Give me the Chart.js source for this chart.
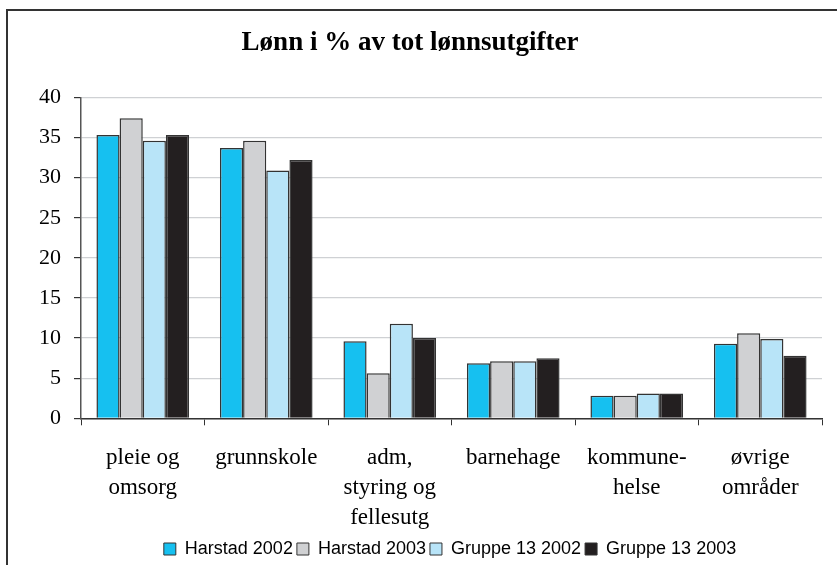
<!DOCTYPE html>
<html>
<head>
<meta charset="utf-8">
<script src="https://cdn.jsdelivr.net/npm/chart.js@4/dist/chart.umd.min.js"></script>
<style>
  html, body { margin: 0; padding: 0; background: #fff; overflow: hidden; }
  #wrap { position: relative; width: 837px; height: 565px; }
  #frame { position: absolute; left: 6px; top: 9px; width: 900px; height: 700px; border: 2px solid #333; box-sizing: border-box; pointer-events: none; }
  canvas { position: absolute; left: 0; top: 0; }
</style>
</head>
<body>
<div id="wrap">
  <canvas id="chart" width="837" height="565"></canvas>
  <div id="frame"></div>
</div>
<script>
const categories = [
  ["pleie og", "omsorg"],
  "grunnskole",
  ["adm,", "styring og", "fellesutg"],
  "barnehage",
  ["kommune-", "helse"],
  ["øvrige", "områder"]
]
const harstad2002 = [35.3, 33.7, 9.6, 6.85, 2.8, 9.3]
const harstad2003 = [37.4, 34.6, 5.6, 7.1, 2.8, 10.6]
const gruppe2002 = [34.6, 30.9, 11.8, 7.1, 3.1, 9.9]
const gruppe2003 = [35.3, 32.2, 10.0, 7.5, 3.1, 7.8]
const yTicks = [0, 5, 10, 15, 20, 25, 30, 35, 40]

const serif = "'Liberation Serif', 'Times New Roman', serif"
const sans = "'Liberation Sans', Arial, sans-serif"

const series = [
  { label: "Harstad 2002", data: harstad2002, color: "#16c0f0" },
  { label: "Harstad 2003", data: harstad2003, color: "#d0d1d3" },
  { label: "Gruppe 13 2002", data: gruppe2002, color: "#b8e4f8" },
  { label: "Gruppe 13 2003", data: gruppe2003, color: "#231f20" }
]

// nudge title and legend sideways like in the original layout
const shiftBoxes = {
  id: "shiftBoxes",
  afterLayout(chart) {
    const t = chart.titleBlock
    if (t) { t.left -= 14; t.right -= 14 }
    const l = chart.legend
    if (l) { l.left += 26; l.right += 26 }
  }
}

const ctx = document.getElementById("chart").getContext("2d")
new Chart(ctx, {
  type: "bar",
  data: {
    labels: categories,
    datasets: series.map(s => ({
      label: s.label,
      data: s.data,
      backgroundColor: s.color,
      borderColor: "#333",
      borderWidth: 1.5,
      categoryPercentage: 0.75,
      barPercentage: 1.0
    }))
  },
  plugins: [shiftBoxes],
  options: {
    responsive: false,
    animation: false,
    layout: { padding: { left: 26, right: 15, top: 12, bottom: -3 } },
    plugins: {
      title: {
        display: true,
        text: "Lønn i % av tot lønnsutgifter",
        color: "#000",
        font: { family: serif, size: 27, weight: "bold" },
        padding: { top: 15, bottom: 38 }
      },
      legend: {
        position: "bottom",
        labels: {
          color: "#000",
          font: { family: sans, size: 18 },
          boxWidth: 12,
          boxHeight: 12,
          padding: 4,
          generateLabels(chart) {
            return chart.data.datasets.map((d, i) => ({
              text: d.label,
              fillStyle: d.backgroundColor,
              strokeStyle: "#333",
              lineWidth: 1,
              datasetIndex: i,
              hidden: false
            }))
          }
        }
      },
      tooltip: { enabled: false }
    },
    scales: {
      x: {
        afterFit(axis) {
          axis.height -= 15
        },
        grid: {
          display: true,
          drawOnChartArea: false,
          drawTicks: true,
          tickLength: 7,
          color: "#333",
          offset: true
        },
        border: { color: "#333", width: 1.5 },
        ticks: {
          color: "#000",
          font: { family: serif, size: 23, lineHeight: 1.3 },
          padding: 18,
          maxRotation: 0,
          autoSkip: false
        }
      },
      y: {
        min: 0,
        max: 40,
        afterBuildTicks(axis) {
          axis.ticks = yTicks.map(v => ({ value: v }))
        },
        grid: {
          color: "#cfd1d4",
          lineWidth: 1.2,
          tickColor: "#333",
          tickLength: 7
        },
        border: { color: "#555", width: 1.5 },
        ticks: {
          color: "#000",
          font: { family: serif, size: 22 },
          padding: 13
        }
      }
    }
  }
})
</script>
</body>
</html>
